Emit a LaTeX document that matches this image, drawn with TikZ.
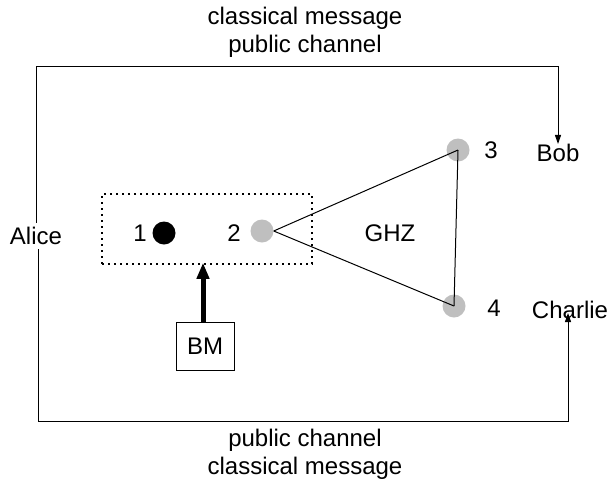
\documentclass[tikz,border=0pt]{standalone}
\usepackage{fontspec}
\setmainfont{Liberation Sans}
\usetikzlibrary{arrows.meta}
\begin{document}
\begin{tikzpicture}[x=1pt,y=-1pt,
  every node/.style={font=\fontsize{24}{28}\selectfont, inner sep=0pt},
  wire/.style={line width=1pt},
  tip/.style={wire,-{Triangle[length=9pt,width=6pt]}},
  qubitblack/.style={circle, fill=black, minimum size=23pt},
  qubitgray/.style={circle, fill=black!25, minimum size=23pt},
  link/.style={line width=1pt},
  txt/.style={align=center}]
\useasboundingbox (0,0) rectangle (610,485);

% parties
\node (alice) at (36,236) {Alice};
\node (bob) at (558,153) {Bob};
\node (charlie) at (570,310) {Charlie};

% channel labels
\node[txt] (top) at (305,32) {classical message\\public channel};
\node[txt] (bottom) at (305,454) {public channel\\classical message};

% classical channels
\coordinate (tl) at (36,66);
\coordinate (tr) at (558,66);
\coordinate (bl) at (38,421);
\coordinate (br) at (568,421);
\draw[tip] (alice.north -| tl) ++(0,-4) -- (tl) -- (tr) -- (bob.north);
\draw[tip] (alice.south -| bl) ++(0,4) -- (bl) -- (br) -- ([yshift=6pt]charlie.south -| br);

% qubits
\node[qubitblack] (q1) at (164,233) {};
\node[qubitgray] (q2) at (262,231) {};
\node[qubitgray] (q3) at (458,150) {};
\node[qubitgray] (q4) at (454,306) {};
\node (l1) at (140,233) {1};
\node (l2) at (234,233) {2};
\node (l3) at (491,150) {3};
\node (l4) at (494,308) {4};
\node (ghz) at (390,233) {GHZ};

% GHZ triangle
\draw[link] (q2.east) -- (q3.center);
\draw[link] (q2.east) -- (q4.center);
\draw[link] (q3.center) -- (q4.center);

% Bell measurement on qubits 1 and 2
\node[draw, dash pattern=on 2pt off 4pt, line width=1.5pt, minimum width=210pt, minimum height=70pt] (pair) at (207,229) {};
\node[draw, line width=1pt, minimum width=58pt, minimum height=48pt] (bm) at (205,346) {BM};
\draw[line width=5pt, -{Triangle[length=16pt,width=12pt]}] (bm.north -| 203,0) -- ([yshift=2pt]pair.south -| 203,0);
\end{tikzpicture}
\end{document}
